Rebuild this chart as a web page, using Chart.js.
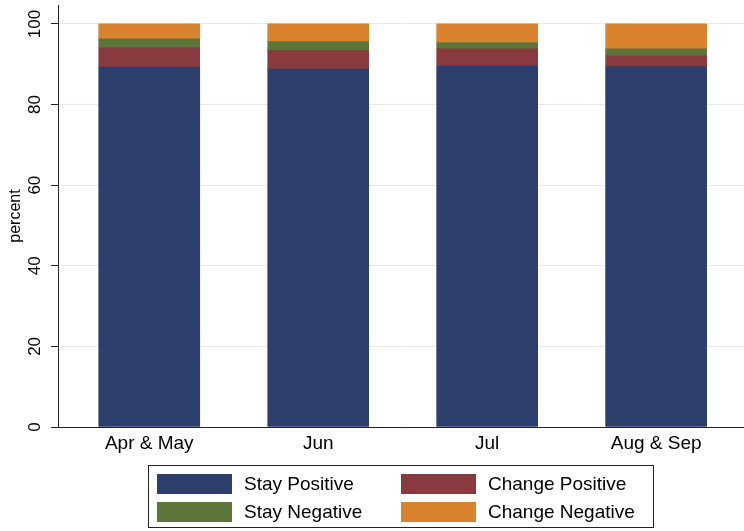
<!DOCTYPE html>
<html>
<head>
<meta charset="utf-8">
<script src="https://cdn.jsdelivr.net/npm/chart.js@4"></script>
<style>
  html, body { margin: 0; padding: 0; background: #fff; }
  #wrap { position: relative; width: 744px; height: 531px; }
  #chart { position: absolute; left: 0; top: 0; }
  #legend {
    position: absolute; left: 148px; top: 465px; width: 506px; height: 63px;
    border: 1px solid #222; box-sizing: border-box;
    font-family: "Liberation Sans", Arial, sans-serif; font-size: 19px; color: #000;
  }
  .item { position: absolute; height: 20px; }
  .sw { position: absolute; left: 0; top: 0; width: 75px; height: 20px; }
  .lab { position: absolute; left: 87px; top: -2px; white-space: nowrap; line-height: 24px; }
</style>
</head>
<body>
<div id="wrap">
  <canvas id="chart" width="744" height="531"></canvas>
  <div id="legend"></div>
</div>
<script>
var categories = ['Apr & May', 'Jun', 'Jul', 'Aug & Sep'];
var seriesNames = ['Stay Positive', 'Change Positive', 'Stay Negative', 'Change Negative'];
var stayPositive = [89.3, 88.8, 89.7, 89.4];
var changePositive = [4.8, 4.6, 4.1, 2.7];
var stayNegative = [2.2, 2.2, 1.6, 1.7];
var changeNegative = [3.7, 4.4, 4.6, 6.2];
var yTicks = [0, 20, 40, 60, 80, 100];

var colors = ['#2c3e6b', '#883a3e', '#5c7538', '#d9832f'];
var values = [stayPositive, changePositive, stayNegative, changeNegative];
var font = '"Liberation Sans", Arial, sans-serif';

var datasets = values.map(function (vals, k) {
    return {
        label: seriesNames[k],
        data: vals.map(function (v, i) { return { x: i, y: v }; }),
        backgroundColor: colors[k],
        borderWidth: 0,
        barThickness: 101
    };
});

var chart = new Chart(document.getElementById('chart').getContext('2d'), {
    type: 'bar',
    data: { datasets: datasets },
    options: {
        responsive: false,
        animation: false,
        layout: { padding: { top: 5, left: 0, right: 0, bottom: 0 } },
        plugins: { legend: { display: false }, tooltip: { enabled: false } },
        scales: {
            x: {
                type: 'linear',
                stacked: true,
                min: -0.54,
                max: 3.52,
                offset: false,
                afterBuildTicks: function (scale) {
                    scale.ticks = categories.map(function (c, i) { return { value: i }; });
                },
                afterFit: function (scale) {
                    scale.height = 104;
                    scale.paddingLeft = 0;
                    scale.paddingRight = 0;
                },
                grid: { display: false, drawTicks: false, tickLength: 0 },
                border: { display: true, color: '#222', width: 1 },
                ticks: {
                    autoSkip: false,
                    maxRotation: 0,
                    padding: 5,
                    color: '#000',
                    font: { family: font, size: 19 },
                    callback: function (v) { return categories[v]; }
                }
            },
            y: {
                stacked: true,
                min: 0,
                max: 104.7,
                afterBuildTicks: function (scale) {
                    scale.ticks = yTicks.map(function (v) { return { value: v }; });
                },
                afterFit: function (scale) {
                    scale.width = 58;
                    scale.paddingTop = 0;
                    scale.paddingBottom = 0;
                },
                grid: { color: '#e4e9f1', lineWidth: 1, tickLength: 7, tickColor: '#222', drawTicks: true },
                border: { display: true, color: '#222', width: 1 },
                ticks: {
                    minRotation: 90,
                    maxRotation: 90,
                    crossAlign: 'center',
                    padding: 2,
                    color: '#000',
                    font: { family: font, size: 17 }
                },
                title: {
                    display: true,
                    text: 'percent',
                    color: '#000',
                    padding: { top: 6, bottom: 0 },
                    font: { family: font, size: 16 }
                }
            }
        }
    }
});

// legend: 2x2 grid, same order as the original
var legend = document.getElementById('legend');
seriesNames.forEach(function (name, k) {
    var item = document.createElement('div');
    item.className = 'item';
    item.style.left = (k % 2 === 0 ? 8 : 252) + 'px';
    item.style.top = (k < 2 ? 8 : 36) + 'px';
    var sw = document.createElement('div');
    sw.className = 'sw';
    sw.style.background = colors[k];
    var lab = document.createElement('div');
    lab.className = 'lab';
    lab.textContent = name;
    item.appendChild(sw);
    item.appendChild(lab);
    legend.appendChild(item);
});
</script>
</body>
</html>
